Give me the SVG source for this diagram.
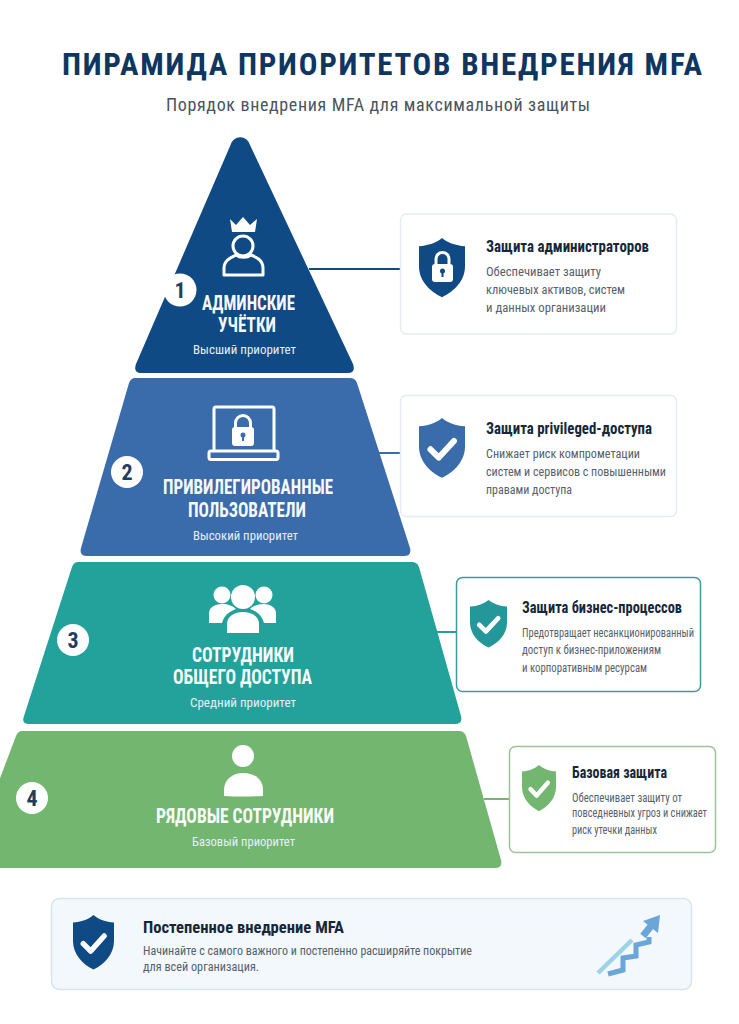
<svg xmlns="http://www.w3.org/2000/svg" width="739" height="1024" viewBox="0 0 739 1024">
<style>
text{font-family:Roboto,"Liberation Sans","Noto Sans",sans-serif}
.ttl{font-size:21px;font-weight:700;fill:#fff;opacity:.96;font-stretch:75%}
.sub{font-size:13.500px;fill:#e6eef5;font-stretch:75%}
.ct{font-size:16.500px;font-weight:700;fill:#16273a;font-stretch:75%}
.cb{font-size:13.500px;fill:#56616c;font-stretch:75%}
.cs{font-size:12.500px}
.badge{fill:#fff}
.num{font-size:22px;font-weight:700;text-anchor:middle;fill:#1b3f5c;font-stretch:75%}
.card{fill:#fff;stroke-width:1.5}
.conn{stroke-width:2;fill:none}
</style>
<defs>
<path id="shield" d="M50 0C62 10 80 17 100 18V62C100 95 75 118 50 130C25 118 0 95 0 62V18C20 17 38 10 50 0Z"/>
<path id="check" d="M25 68L43 86L76 50" fill="none" stroke="#fff" stroke-width="13" stroke-linecap="round" stroke-linejoin="round"/>
</defs>
<rect width="739" height="1024" fill="#fff"/>
<g id="header">
<text x="62" y="75" font-size="31" font-weight="700" fill="#0e3660" style="font-stretch:85%" textLength="640">ПИРАМИДА ПРИОРИТЕТОВ ВНЕДРЕНИЯ MFA</text>
<text x="166" y="110.500" font-size="18" font-weight="400" fill="#4a5560" style="font-stretch:85%" textLength="424">Порядок внедрения MFA для максимальной защиты</text>
</g>
<g id="connectors">
<path class="conn" stroke="#0f4a85" d="M309 269H401"/>
<path class="conn" stroke="#3a6cab" d="M373 453H401"/>
<path class="conn" stroke="#23a29c" d="M437 632H457"/>
<path class="conn" stroke="#73b670" d="M484 799H510"/>
</g>
<g id="tier1">
<path fill="#0f4a85" d="M230.500 145A10 10 0 0 1 250 145L353 364Q356 373 348 373H141Q133 373 136 364Z"/>
<g fill="none" stroke="#fff" stroke-width="3">
<circle cx="243" cy="246" r="10"/>
<path d="M224 275V268C224 260 232 257 236 255C240 258 247 258 251 255C256 257 263 260 263 268V275Z" stroke-linejoin="round"/>
</g>
<path fill="#fff" d="M230 219L236 225L243 217L250 225L257 219L255 232H232Z"/>
<circle class="badge" cx="180" cy="290" r="16.500"/><text class="num" x="180" y="298">1</text>
<text class="ttl" x="202" y="310" textLength="93" lengthAdjust="spacingAndGlyphs">АДМИНСКИЕ</text>
<text class="ttl" x="218" y="332" textLength="58" lengthAdjust="spacingAndGlyphs">УЧЁТКИ</text>
<text class="sub" x="193" y="354" textLength="103" lengthAdjust="spacingAndGlyphs">Высший приоритет</text>
</g>
<g id="tier2">
<path fill="#3a6cab" d="M135 378H350Q355 378 357 383L410 548Q412 556 404 556H87Q79 556 81 548L129 383Q131 378 135 378Z"/>
<g fill="none" stroke="#fff" stroke-width="3">
<path d="M214 451V409Q214 407 216 407H272Q274 407 274 409V451"/>
<rect x="209" y="451" width="69" height="8.500" rx="2"/>
<path d="M235.500 428V423A7.500 7.500 0 0 1 250.500 423V428"/>
</g>
<rect x="232" y="427" width="22" height="19" rx="3" fill="#fff"/>
<circle cx="243" cy="435" r="2.500" fill="#3a6cab"/><rect x="242" y="435" width="2" height="6" fill="#3a6cab"/>
<circle class="badge" cx="127" cy="472" r="16"/><text class="num" x="127" y="480">2</text>
<text class="ttl" x="163" y="494" textLength="170" lengthAdjust="spacingAndGlyphs">ПРИВИЛЕГИРОВАННЫЕ</text>
<text class="ttl" x="188" y="517" textLength="118" lengthAdjust="spacingAndGlyphs">ПОЛЬЗОВАТЕЛИ</text>
<text class="sub" x="193" y="540" textLength="105" lengthAdjust="spacingAndGlyphs">Высокий приоритет</text>
</g>
<g id="tier3">
<path fill="#23a29c" d="M78 562H412Q417 562 419 567L461 716Q463 724 455 724H29Q21 724 24 716L72 567Q74 562 78 562Z"/>
<g fill="#fff">
<circle cx="222" cy="595" r="8.500"/><circle cx="264" cy="595" r="8.500"/><circle cx="243" cy="597" r="12"/>
<path d="M209 623V613C209 607 216 604 222 604C228 604 233 606 236 609C228 612 224 616 222 623Z"/>
<path d="M276 623V613C276 607 269 604 264 604C258 604 253 606 250 609C258 612 262 616 264 623Z"/>
<path d="M227 633V624C227 616 235 612 243 612C251 612 259 616 259 624V633Z"/>
</g>
<circle class="badge" cx="73" cy="640" r="16"/><text class="num" x="73" y="648">3</text>
<text class="ttl" x="192" y="662" textLength="102" lengthAdjust="spacingAndGlyphs">СОТРУДНИКИ</text>
<text class="ttl" x="173" y="684" textLength="139" lengthAdjust="spacingAndGlyphs">ОБЩЕГО ДОСТУПА</text>
<text class="sub" x="190" y="707" textLength="106" lengthAdjust="spacingAndGlyphs">Средний приоритет</text>
</g>
<g id="tier4">
<path fill="#73b670" d="M22 731H459Q464 731 466 736L501 860Q503 868 495 868H-34L16 736Q18 731 22 731Z"/>
<circle cx="243" cy="756" r="11" fill="#fff"/>
<path fill="#fff" d="M224 796V790C224 779 233 773 243.500 773C254 773 263 779 263 790V796Q243 797 224 796Z"/>
<circle class="badge" cx="32" cy="798" r="16"/><text class="num" x="32" y="806">4</text>
<text class="ttl" x="156" y="823" textLength="178" lengthAdjust="spacingAndGlyphs">РЯДОВЫЕ СОТРУДНИКИ</text>
<text class="sub" x="192" y="846" textLength="103" lengthAdjust="spacingAndGlyphs">Базовый приоритет</text>
</g>
<g id="card1">
<rect class="card" stroke="#e6ebf2" x="400.500" y="214" width="276" height="120" rx="6"/>
<use href="#shield" transform="translate(419 238) scale(.46 .455)" fill="#0f4a85"/>
<path d="M436 264V259A6.500 6.500 0 0 1 449 259V264" fill="none" stroke="#fff" stroke-width="3"/>
<rect x="432" y="264" width="21" height="18" rx="3" fill="#fff"/>
<circle cx="442.500" cy="271" r="2.500" fill="#0f4a85"/><rect x="441.500" y="271" width="2" height="6" fill="#0f4a85"/>
<text class="ct" x="486" y="252" textLength="163" lengthAdjust="spacingAndGlyphs">Защита администраторов</text>
<text class="cb" x="486" y="276" textLength="115" lengthAdjust="spacingAndGlyphs">Обеспечивает защиту</text>
<text class="cb" x="486" y="294" textLength="139" lengthAdjust="spacingAndGlyphs">ключевых активов, систем</text>
<text class="cb" x="486" y="312" textLength="120" lengthAdjust="spacingAndGlyphs">и данных организации</text>
</g>
<g id="card2">
<rect class="card" stroke="#e6ebf2" x="400.500" y="395.500" width="276" height="121" rx="6"/>
<use href="#shield" transform="translate(419 418) scale(.46 .46)" fill="#3a6cab"/>
<use href="#check" transform="translate(419 418) scale(.46 .46)"/>
<text class="ct" x="486" y="434" textLength="166" lengthAdjust="spacingAndGlyphs">Защита privileged-доступа</text>
<text class="cb" x="486" y="458" textLength="154" lengthAdjust="spacingAndGlyphs">Снижает риск компрометации</text>
<text class="cb" x="486" y="476" textLength="180" lengthAdjust="spacingAndGlyphs">систем и сервисов с повышенными</text>
<text class="cb" x="486" y="494" textLength="86" lengthAdjust="spacingAndGlyphs">правами доступа</text>
</g>
<g id="card3">
<rect class="card" stroke="#3e9a9c" x="456.500" y="577.500" width="244" height="114" rx="6"/>
<use href="#shield" transform="translate(470 600) scale(.37 .365)" fill="#23979a"/>
<use href="#check" transform="translate(470 600) scale(.37 .365)"/>
<text class="ct" x="522" y="613" textLength="160" lengthAdjust="spacingAndGlyphs">Защита бизнес-процессов</text>
<text class="cb cs" x="522" y="637" textLength="172" lengthAdjust="spacingAndGlyphs">Предотвращает несанкционированный</text>
<text class="cb" x="522" y="654" textLength="139" lengthAdjust="spacingAndGlyphs">доступ к бизнес-приложениям</text>
<text class="cb" x="522" y="672" textLength="125" lengthAdjust="spacingAndGlyphs">и корпоративным ресурсам</text>
</g>
<g id="card4">
<rect class="card" stroke="#9cc39a" x="509.500" y="746.500" width="206" height="106" rx="6"/>
<use href="#shield" transform="translate(522 765) scale(.34 .355)" fill="#73b670"/>
<use href="#check" transform="translate(522 765) scale(.34 .355)"/>
<text class="ct" x="572" y="778" textLength="95" lengthAdjust="spacingAndGlyphs">Базовая защита</text>
<text class="cb" x="572" y="802" textLength="110" lengthAdjust="spacingAndGlyphs">Обеспечивает защиту от</text>
<text class="cb cs" x="572" y="817" textLength="135" lengthAdjust="spacingAndGlyphs">повседневных угроз и снижает</text>
<text class="cb" x="572" y="834" textLength="85" lengthAdjust="spacingAndGlyphs">риск утечки данных</text>
</g>
<g id="banner">
<rect x="51.500" y="898.500" width="640" height="91" rx="8" fill="#f3f8fc" stroke="#d6e4ef" stroke-width="1.500"/>
<use href="#shield" transform="translate(73 915) scale(.41 .42)" fill="#0f4a85"/>
<use href="#check" transform="translate(73 915) scale(.41 .42)"/>
<text x="143" y="933" font-size="17" font-weight="700" fill="#16273a" style="font-stretch:75%" textLength="201" lengthAdjust="spacingAndGlyphs">Постепенное внедрение MFA</text>
<text class="cb" x="143" y="955" textLength="329" lengthAdjust="spacingAndGlyphs">Начинайте с самого важного и постепенно расширяйте покрытие</text>
<text class="cb" x="143" y="971" textLength="116" lengthAdjust="spacingAndGlyphs">для всей организация.</text>
<path d="M598 973L632 940" stroke="#9dd3e8" stroke-width="4.500" fill="none"/>
<path d="M608 974L623 970V958L636 956V945L649 942V937" stroke="#6ba6d8" stroke-width="5" fill="none"/>
<path d="M643 936L651 926" stroke="#6ba6d8" stroke-width="7" fill="none"/>
<path d="M660 915L658 933L643 921Z" fill="#6ba6d8"/>
</g>
</svg>
